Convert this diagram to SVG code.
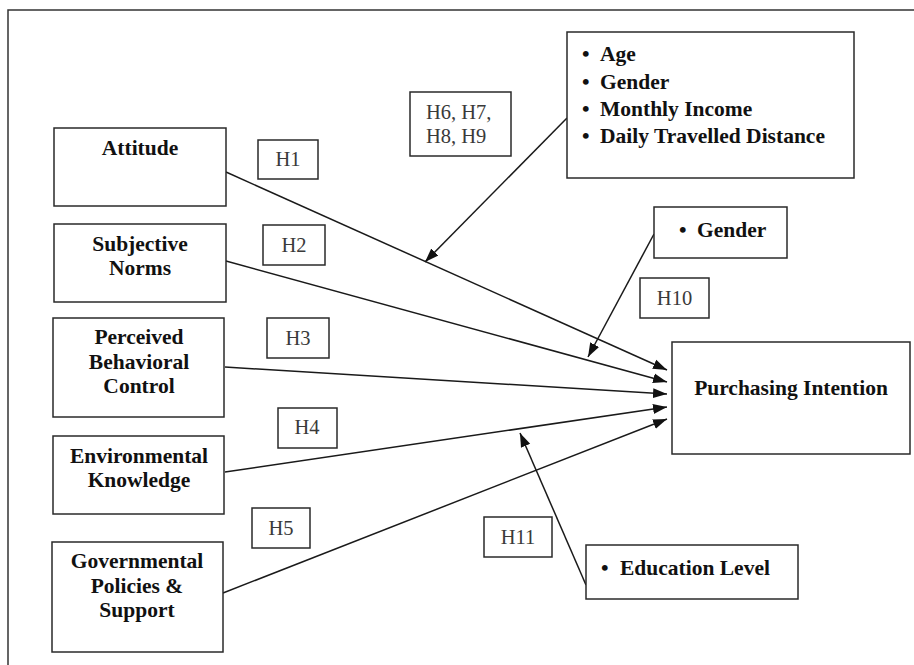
<svg xmlns="http://www.w3.org/2000/svg" width="914" height="665" viewBox="0 0 914 665">
<style>
.box{fill:#fff;stroke:#2a2a2a;stroke-width:1.5}
.lbl{font-family:"Liberation Serif","Times New Roman",serif;font-size:21.5px;font-weight:bold;fill:#111}
.h{font-family:"Liberation Serif","Times New Roman",serif;font-size:20.5px;fill:#3a3a3a}
.c{text-anchor:middle}
.con{stroke:#1a1a1a;stroke-width:1.5;fill:none;marker-end:url(#ah)}
</style>
<defs>
<marker id="ah" markerUnits="userSpaceOnUse" markerWidth="15" markerHeight="12" refX="14" refY="5" orient="auto" viewBox="0 0 15 10">
<path d="M0,0 L14,5 L0,10 z" fill="#111"/>
</marker>
</defs>
<rect x="0" y="0" width="914" height="665" fill="#fff"/>
<rect x="8" y="10" width="912" height="670" fill="none" stroke="#333" stroke-width="1.5"/>

<g id="connectors">
<line class="con" x1="226" y1="172" x2="667" y2="370"/>
<line class="con" x1="226" y1="261" x2="667" y2="382"/>
<line class="con" x1="225" y1="367" x2="667" y2="394"/>
<line class="con" x1="225" y1="472" x2="667" y2="407"/>
<line class="con" x1="223" y1="593" x2="667" y2="419"/>
<line class="con" x1="567" y1="118" x2="425" y2="262"/>
<line class="con" x1="654" y1="234" x2="588" y2="357"/>
<line class="con" x1="586" y1="585" x2="520" y2="433"/>
</g>

<g id="attitude">
<rect class="box" x="54" y="128" width="172" height="78"/>
<text class="lbl c" x="140" y="155">Attitude</text>
</g>
<g id="subjective-norms">
<rect class="box" x="54" y="224" width="172" height="78"/>
<text class="lbl c" x="140" y="251">Subjective</text>
<text class="lbl c" x="140" y="275">Norms</text>
</g>
<g id="pbc">
<rect class="box" x="53" y="318" width="171" height="99"/>
<text class="lbl c" x="139" y="344">Perceived</text>
<text class="lbl c" x="139" y="369">Behavioral</text>
<text class="lbl c" x="139" y="393">Control</text>
</g>
<g id="environmental-knowledge">
<rect class="box" x="53" y="436" width="171" height="78"/>
<text class="lbl c" x="139" y="463">Environmental</text>
<text class="lbl c" x="139" y="487">Knowledge</text>
</g>
<g id="governmental-policies">
<rect class="box" x="52" y="542" width="171" height="110"/>
<text class="lbl c" x="137" y="568">Governmental</text>
<text class="lbl c" x="137" y="593">Policies &amp;</text>
<text class="lbl c" x="137" y="617">Support</text>
</g>
<g id="purchasing-intention">
<rect class="box" x="672" y="342" width="238" height="112"/>
<text class="lbl c" x="791" y="395">Purchasing Intention</text>
</g>
<g id="demographics">
<rect class="box" x="567" y="32" width="287" height="146"/>
<text class="lbl" x="582" y="61">•</text><text class="lbl" x="600" y="61">Age</text>
<text class="lbl" x="582" y="89">•</text><text class="lbl" x="600" y="89">Gender</text>
<text class="lbl" x="582" y="116">•</text><text class="lbl" x="600" y="116">Monthly Income</text>
<text class="lbl" x="582" y="143">•</text><text class="lbl" x="600" y="143">Daily Travelled Distance</text>
</g>
<g id="gender">
<rect class="box" x="654" y="207" width="133" height="51"/>
<text class="lbl" x="679" y="237">•</text><text class="lbl" x="697" y="237">Gender</text>
</g>
<g id="education-level">
<rect class="box" x="586" y="545" width="212" height="54"/>
<text class="lbl" x="601" y="575">•</text><text class="lbl" x="620" y="575">Education Level</text>
</g>

<g id="h1"><rect class="box" x="258" y="140" width="60" height="39"/><text class="h c" x="288" y="166">H1</text></g>
<g id="h2"><rect class="box" x="263" y="225" width="62" height="40"/><text class="h c" x="294" y="252">H2</text></g>
<g id="h3"><rect class="box" x="267" y="318" width="62" height="40"/><text class="h c" x="298" y="345">H3</text></g>
<g id="h4"><rect class="box" x="278" y="408" width="59" height="40"/><text class="h c" x="307" y="434">H4</text></g>
<g id="h5"><rect class="box" x="252" y="508" width="58" height="40"/><text class="h c" x="281" y="535">H5</text></g>
<g id="h6-h9"><rect class="box" x="410" y="92" width="101" height="64"/>
<text class="h" x="426" y="119">H6, H7,</text><text class="h" x="426" y="143">H8, H9</text></g>
<g id="h10"><rect class="box" x="640" y="278" width="69" height="40"/><text class="h c" x="674.5" y="305">H10</text></g>
<g id="h11"><rect class="box" x="484" y="517" width="68" height="40"/><text class="h c" x="518" y="544">H11</text></g>
</svg>
